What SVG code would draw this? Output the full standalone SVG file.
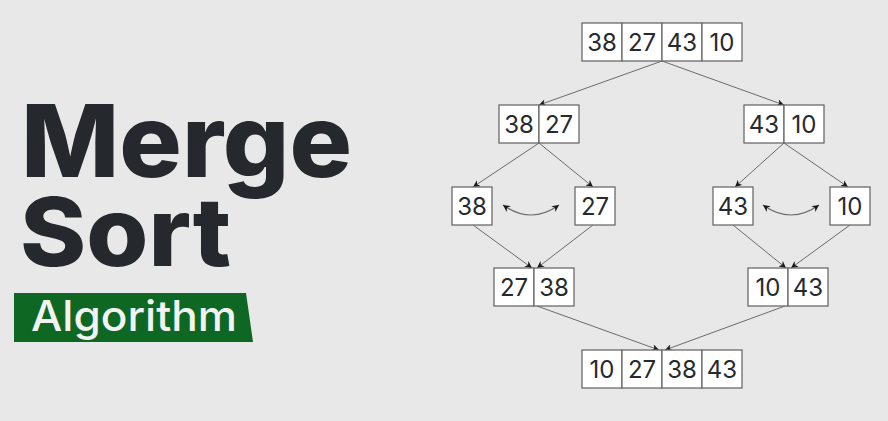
<svg xmlns="http://www.w3.org/2000/svg" width="888" height="421" viewBox="0 0 888 421">
<style>
.bg{fill:#e8e8e8}
.cell{fill:#ffffff;stroke:#6b6b6b;stroke-width:1.3}
.num{font-family:Inter,"Noto Sans","Liberation Sans",sans-serif;font-size:24px;fill:#262a2e;text-anchor:middle}
.title{font-family:Inter,"Noto Sans","Liberation Sans",sans-serif;font-weight:800;fill:#25292d}
.sub{font-family:Inter,"Noto Sans","Liberation Sans",sans-serif;font-weight:500;font-size:42px;fill:#f2f2f2}
.edge{stroke:#6b6b6b;stroke-width:1;fill:none;marker-end:url(#ah)}
.swap{stroke:#6b6b6b;stroke-width:1.2;fill:none;marker-end:url(#ah);marker-start:url(#ah)}
</style>
<defs>
<marker id="ah" viewBox="0 0 10 10" refX="10" refY="5" markerWidth="7" markerHeight="7" markerUnits="userSpaceOnUse" orient="auto-start-reverse">
<path d="M0,0 L10,5 L0,10 L3,5 Z" fill="#1a1a1a"/>
</marker>
</defs>
<rect class="bg" x="0" y="0" width="888" height="421"/>

<g id="title">
<text class="title" x="21" y="177" font-size="101" textLength="331" lengthAdjust="spacingAndGlyphs">Merge</text>
<text class="title" x="20" y="266" font-size="95" textLength="211" lengthAdjust="spacingAndGlyphs">Sort</text>
<polygon points="14,293 246,293 253,342 14,342" fill="#0e6823"/>
<text class="sub" x="31" y="331" textLength="206" lengthAdjust="spacingAndGlyphs">Algorithm</text>
</g>

<g id="connectors">
<line class="edge" x1="662" y1="61" x2="539" y2="105"/>
<line class="edge" x1="662" y1="61" x2="784" y2="105"/>
<line class="edge" x1="539" y1="143" x2="473" y2="187"/>
<line class="edge" x1="539" y1="143" x2="593" y2="187"/>
<line class="edge" x1="784" y1="143" x2="735" y2="187"/>
<line class="edge" x1="784" y1="143" x2="848" y2="187"/>
<line class="edge" x1="473" y1="225" x2="532" y2="268"/>
<line class="edge" x1="593" y1="225" x2="537" y2="268"/>
<line class="edge" x1="733" y1="225" x2="786" y2="268"/>
<line class="edge" x1="850" y1="225" x2="791" y2="268"/>
<line class="edge" x1="537" y1="306" x2="659" y2="350"/>
<line class="edge" x1="785" y1="306" x2="665" y2="350"/>
<path class="swap" d="M503,205 Q531,225 559,205"/>
<path class="swap" d="M763,205 Q791,225 819,205"/>
</g>

<g id="n-top">
<rect class="cell" x="582" y="23" width="40" height="38"/>
<rect class="cell" x="622" y="23" width="40" height="38"/>
<rect class="cell" x="662" y="23" width="40" height="38"/>
<rect class="cell" x="702" y="23" width="40" height="38"/>
<text class="num" x="602" y="51">38</text>
<text class="num" x="642" y="51">27</text>
<text class="num" x="682" y="51">43</text>
<text class="num" x="722" y="51">10</text>
</g>

<g id="n-3827">
<rect class="cell" x="499" y="105" width="40" height="38"/>
<rect class="cell" x="539" y="105" width="40" height="38"/>
<text class="num" x="519" y="133">38</text>
<text class="num" x="559" y="133">27</text>
</g>

<g id="n-4310">
<rect class="cell" x="744" y="105" width="40" height="38"/>
<rect class="cell" x="784" y="105" width="40" height="38"/>
<text class="num" x="764" y="133">43</text>
<text class="num" x="804" y="133">10</text>
</g>

<g id="n-38">
<rect class="cell" x="452" y="187" width="40" height="38"/>
<text class="num" x="472" y="215">38</text>
</g>
<g id="n-27">
<rect class="cell" x="575" y="187" width="40" height="38"/>
<text class="num" x="595" y="215">27</text>
</g>
<g id="n-43">
<rect class="cell" x="713" y="187" width="40" height="38"/>
<text class="num" x="733" y="215">43</text>
</g>
<g id="n-10">
<rect class="cell" x="830" y="187" width="40" height="38"/>
<text class="num" x="850" y="215">10</text>
</g>

<g id="n-2738">
<rect class="cell" x="494" y="268" width="40" height="38"/>
<rect class="cell" x="534" y="268" width="40" height="38"/>
<text class="num" x="514" y="296">27</text>
<text class="num" x="554" y="296">38</text>
</g>

<g id="n-1043">
<rect class="cell" x="748" y="268" width="40" height="38"/>
<rect class="cell" x="788" y="268" width="40" height="38"/>
<text class="num" x="768" y="296">10</text>
<text class="num" x="808" y="296">43</text>
</g>

<g id="n-sorted">
<rect class="cell" x="582" y="350" width="40" height="38"/>
<rect class="cell" x="622" y="350" width="40" height="38"/>
<rect class="cell" x="662" y="350" width="40" height="38"/>
<rect class="cell" x="702" y="350" width="40" height="38"/>
<text class="num" x="602" y="378">10</text>
<text class="num" x="642" y="378">27</text>
<text class="num" x="682" y="378">38</text>
<text class="num" x="722" y="378">43</text>
</g>
</svg>
